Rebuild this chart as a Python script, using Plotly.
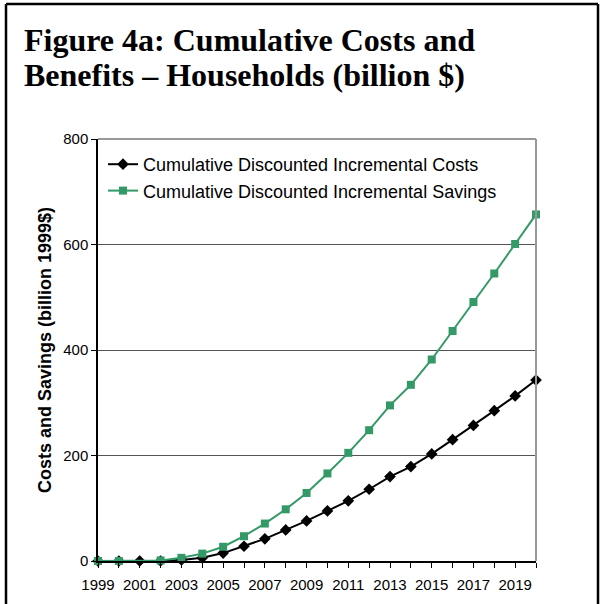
import plotly.graph_objects as go

years = list(range(1999, 2021))
costs = [0, 0, 0, 0, 2, 6, 15, 28, 42, 59, 76, 95, 114, 136, 160, 179, 203, 230, 257, 285, 313, 343]
savings = [0, 0, None, 1, 6, 14, 27, 47, 71, 98, 129, 166, 205, 248, 295, 334, 382, 436, 491, 545, 601, 657]
tick_labels = [str(y) if (y - 1999) % 2 == 0 and y < 2020 else "" for y in years]

title_lines = ["Figure 4a: Cumulative Costs and", "Benefits \u2013 Households (billion $)"]

GREEN = "#339966"

# plot area in pixels
L, R, T, B = 98, 536, 139, 561
W, H = 600, 604
def px(x):
    return (x - L) / (R - L)
def py(y):
    return (B - y) / (B - T)

fig = go.Figure()
fig.add_trace(go.Scatter(
    x=years, y=costs, name="Cumulative Discounted Incremental Costs",
    mode="lines+markers", line=dict(color="black", width=2),
    marker=dict(symbol="diamond", size=9, color="black"),
    cliponaxis=False,
))
fig.add_trace(go.Scatter(
    x=years, y=savings, name="Cumulative Discounted Incremental Savings",
    mode="lines+markers", connectgaps=True, line=dict(color=GREEN, width=2),
    marker=dict(symbol="square", size=8, color=GREEN),
    cliponaxis=False,
))

fig.update_layout(
    width=W, height=H,
    margin=dict(l=L, r=W - R, t=T, b=H - B),
    paper_bgcolor="white", plot_bgcolor="white",
    font=dict(family="Liberation Sans, Arial, sans-serif", color="black", size=15),
    showlegend=True,
    legend=dict(x=px(103), y=py(146), xanchor="left", yanchor="top",
                bgcolor="rgba(0,0,0,0)", font=dict(size=18), itemwidth=30),
    xaxis=dict(
        range=[1999, 2020], tickmode="array", tickvals=years, ticktext=tick_labels,
        ticks="outside", ticklen=5, tickcolor="black", showline=True, linecolor="black",
        linewidth=1.5, showgrid=False, zeroline=False, tickfont=dict(size=15),
        ticklabelstandoff=4,
    ),
    yaxis=dict(
        range=[0, 800], dtick=200, ticks="outside", ticklen=5, tickcolor="black",
        showline=True, linecolor="black", linewidth=1.5, showgrid=True,
        gridcolor="#555555", gridwidth=1, zeroline=False, tickfont=dict(size=15),
        title=dict(text="<b>Costs and Savings (billion 1999$)</b>", font=dict(size=18), standoff=7),
    ),
)

# top/right grey frame of plot area
fig.add_shape(type="line", xref="paper", yref="paper", x0=0, x1=1, y0=1, y1=1,
              line=dict(color="#999999", width=2))
fig.add_shape(type="line", xref="paper", yref="paper", x0=1, x1=1, y0=0, y1=1,
              line=dict(color="#999999", width=2))

# page border
fig.add_shape(type="line", xref="paper", yref="paper", x0=px(6), x1=px(6), y0=py(4), y1=py(620),
              line=dict(color="black", width=2.5))
fig.add_shape(type="line", xref="paper", yref="paper", x0=px(6), x1=px(598), y0=py(4), y1=py(4),
              line=dict(color="black", width=2.5))
fig.add_shape(type="line", xref="paper", yref="paper", x0=px(598), x1=px(598), y0=py(4), y1=py(620),
              line=dict(color="black", width=2.5))

for i, (txt, yc) in enumerate(zip(title_lines, [40, 75])):
    fig.add_annotation(text="<b>" + txt + "</b>", xref="paper", yref="paper",
                       x=px(22), y=py(yc), xanchor="left", yanchor="middle", showarrow=False,
                       font=dict(family="Liberation Serif, Times New Roman, serif", size=32, color="black"))

fig.write_html("out.html")
